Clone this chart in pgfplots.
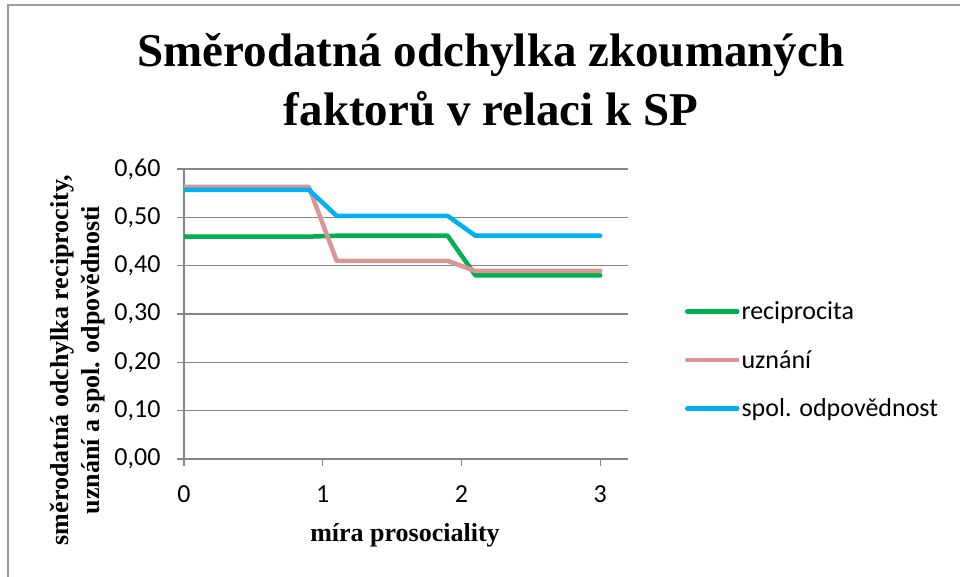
\documentclass[border=0pt]{standalone}
\usepackage{fontspec}
\setmainfont{Liberation Serif}
\newfontfamily\carlito{Carlito}
\usepackage{pgfplots}
\pgfplotsset{compat=1.18}
\definecolor{cgreen}{HTML}{00B050}
\definecolor{cpink}{HTML}{D99694}
\definecolor{cblue}{HTML}{00B0F0}
\definecolor{cgrid}{HTML}{868686}
\begin{document}
\begin{tikzpicture}[x=1pt,y=1pt]
\useasboundingbox (0,0) rectangle (960,577);
\fill[white] (0,0) rectangle (960,577);
\draw[color=cgrid!80, line width=1.5pt] (8,-10) -- (8,572) -- (975,572);
\node[font=\fontsize{47}{59}\selectfont\bfseries, anchor=base] at (491,510) {Směrodatná odchylka zkoumaných};
\node[font=\fontsize{47}{59}\selectfont\bfseries, anchor=base] at (491,451) {faktorů v relaci k SP};
\node[font=\fontsize{26}{31}\selectfont\bfseries, anchor=base] at (405,35) {míra prosociality};
\node[font=\fontsize{26}{31}\selectfont\bfseries, rotate=90, align=center] at (78,217) {směrodatná odchylka reciprocity,\\uznání a spol. odpovědnosti};
\begin{axis}[
  at={(184pt,118pt)}, anchor=south west,
  width=444pt, height=290pt, scale only axis,
  xmin=0, xmax=3.2, ymin=0, ymax=0.6,
  xtick={0,1,2,3}, ytick={0,0.1,0.2,0.3,0.4,0.5,0.6},
  axis x line=bottom, axis y line=left,
  axis line style={-, cgrid, line width=1.3pt},
  ymajorgrids, grid style={cgrid, line width=1.3pt},
  tick align=outside, major tick length=7pt,
  tick style={cgrid, line width=1.3pt},
  ticklabel style={font=\carlito\fontsize{26}{31}\selectfont},
  /pgf/number format/assume math mode=true,
  yticklabel style={xshift=-13pt, /pgf/number format/.cd, fixed, fixed zerofill, precision=2, use comma},
  xticklabel style={yshift=-16pt},
  every axis plot/.append style={line width=4.5pt, line cap=round, line join=round},
  legend style={at={(axis description cs:1.128,0.341)}, anchor=west, draw=none, fill=none,
    font=\carlito\fontsize{26}{31}\selectfont, row sep=25pt, inner sep=0pt},
  legend cell align=left,
  legend image code/.code={\draw[#1] (2pt,0pt) -- (52pt,0pt);},
]
\addplot[cgreen] coordinates {(0,0.460) (0.9,0.460) (1.1,0.462) (1.9,0.462) (2.1,0.380) (3,0.380)};
\addlegendentry{reciprocita}
\addplot[cpink] coordinates {(0,0.563) (0.9,0.563) (1.1,0.410) (1.9,0.410) (2.1,0.389) (3,0.389)};
\addlegendentry{uznání}
\addplot[cblue] coordinates {(0,0.557) (0.9,0.557) (1.1,0.503) (1.9,0.503) (2.1,0.462) (3,0.462)};
\addlegendentry{spol. odpovědnost}
\end{axis}
\end{tikzpicture}
\end{document}
